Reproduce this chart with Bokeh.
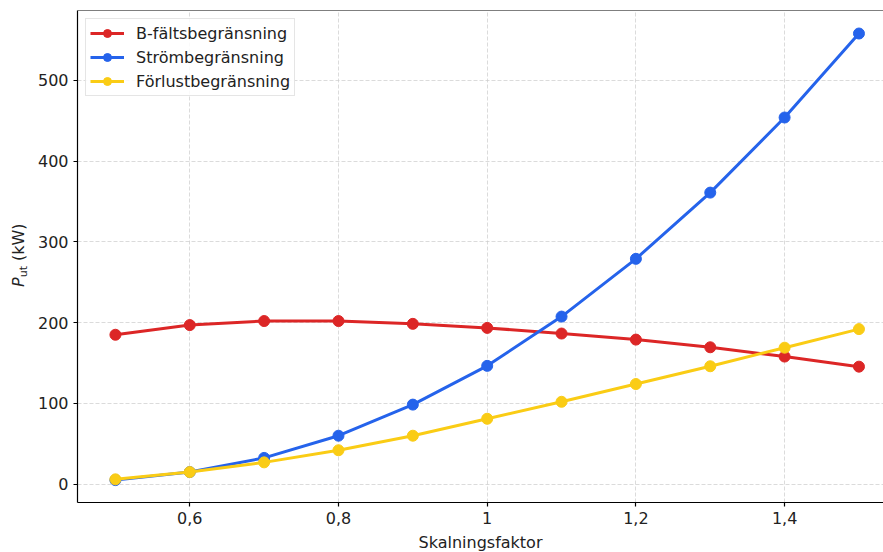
from bokeh.plotting import figure
from bokeh.layouts import row
from bokeh.models import (FixedTicker, CustomJSTickFormatter, Range1d, Span,
                          Legend, LegendItem, Div)
from bokeh.embed import file_html
from bokeh.resources import INLINE

scale = [0.5, 0.6, 0.7, 0.8, 0.9, 1.0, 1.1, 1.2, 1.3, 1.4, 1.5]
b_field = [185, 197, 202, 202, 198.5, 193.5, 186.5, 179, 169.5, 158, 145.5]
current = [5, 15, 32.5, 60, 98.5, 146.5, 207.5, 279, 361, 454, 558]
loss = [6, 15, 27, 42, 60, 81, 102, 124, 146, 169, 192]
names = ["B-fältsbegränsning", "Strömbegränsning", "Förlustbegränsning"]
colors = ["#dc2626", "#2563eb", "#facc15"]
x_ticks = [0.6, 0.8, 1.0, 1.2, 1.4]
y_ticks = [0, 100, 200, 300, 400, 500]
x_title = "Skalningsfaktor"
y_title_main, y_title_sub, y_title_unit = "P", "ut", "(kW)"

FONT = "DejaVu Sans"
FS = "16px"
TXT = "#222222"
X0, X1 = 0.449, 1.533
Y0, Y1 = -22.7, 586.5
H = 552
LW = 32  # width of the strip holding the y title

# ---- strip with the y axis title  P_ut (kW), rotated text
ylab_html = (
    f'<div style="position:absolute; left:10px; top:287px; '
    f'transform:rotate(-90deg); transform-origin:left top; white-space:nowrap; '
    f'font-family:\'{FONT}\'; font-size:{FS}; line-height:18px; color:{TXT};">'
    f'<i>{y_title_main}</i><span style="font-size:11px; position:relative; top:3px;">'
    f'{y_title_sub}</span> {y_title_unit}</div>'
)
ydiv = Div(text=ylab_html, width=LW, height=H, margin=0,
           styles={"position": "relative", "overflow": "visible"})

# ---- main plot
p = figure(frame_width=806, frame_height=492, output_backend="svg",
           toolbar_location=None,
           x_range=Range1d(X0, X1), y_range=Range1d(Y0, Y1),
           min_border_left=77 - LW, min_border_right=0, min_border_top=10,
           min_border_bottom=50)
p.outline_line_color = None

items = []
for ys, c, n in zip([b_field, current, loss], colors, names):
    r1 = p.line(scale, ys, line_color=c, line_width=3)
    r2 = p.scatter(scale, ys, size=11, fill_color=c, line_color=c)
    items.append(LegendItem(label=n, renderers=[r1, r2]))

legend = Legend(items=items, location="top_left")
legend.label_text_font = FONT
legend.label_text_font_size = FS
legend.label_text_color = TXT
legend.glyph_width = 34
legend.glyph_height = 20
legend.label_height = 20
legend.spacing = 4
legend.label_standoff = 12
legend.padding = 4
legend.margin = 8
legend.border_line_color = "#cccccc"
legend.border_line_width = 1
legend.background_fill_alpha = 0.85
p.add_layout(legend)

for ax in [p.xaxis[0], p.yaxis[0]]:
    ax.axis_line_color = "black"
    ax.axis_line_width = 1.2
    ax.major_tick_line_color = "black"
    ax.major_tick_line_width = 1.2
    ax.major_tick_in = 0
    ax.major_tick_out = 4
    ax.minor_tick_line_color = None
    ax.major_label_text_font = FONT
    ax.major_label_text_font_size = FS
    ax.major_label_text_color = TXT
    ax.major_label_standoff = 5
    ax.axis_label_text_font = FONT
    ax.axis_label_text_font_size = FS
    ax.axis_label_text_font_style = "normal"
    ax.axis_label_text_color = TXT

p.xaxis[0].ticker = FixedTicker(ticks=x_ticks)
p.xaxis[0].formatter = CustomJSTickFormatter(
    code="var s = (Math.round(tick*10)/10).toString(); return s.replace('.', ',');")
p.xaxis[0].axis_label = x_title
p.xaxis[0].axis_label_standoff = 6
p.yaxis[0].ticker = FixedTicker(ticks=y_ticks)

# top frame line
p.add_layout(Span(location=Y1, dimension="width", line_color="black", line_width=1.2))

for g in [p.xgrid[0], p.ygrid[0]]:
    g.grid_line_color = "#cccccc"
    g.grid_line_alpha = 0.7
    g.grid_line_dash = "4 2"
    g.grid_line_width = 1
p.xgrid[0].ticker = FixedTicker(ticks=x_ticks)
p.ygrid[0].ticker = FixedTicker(ticks=y_ticks)

layout = row(ydiv, p, spacing=0)
open("out.html", "w").write(file_html(layout, INLINE))
